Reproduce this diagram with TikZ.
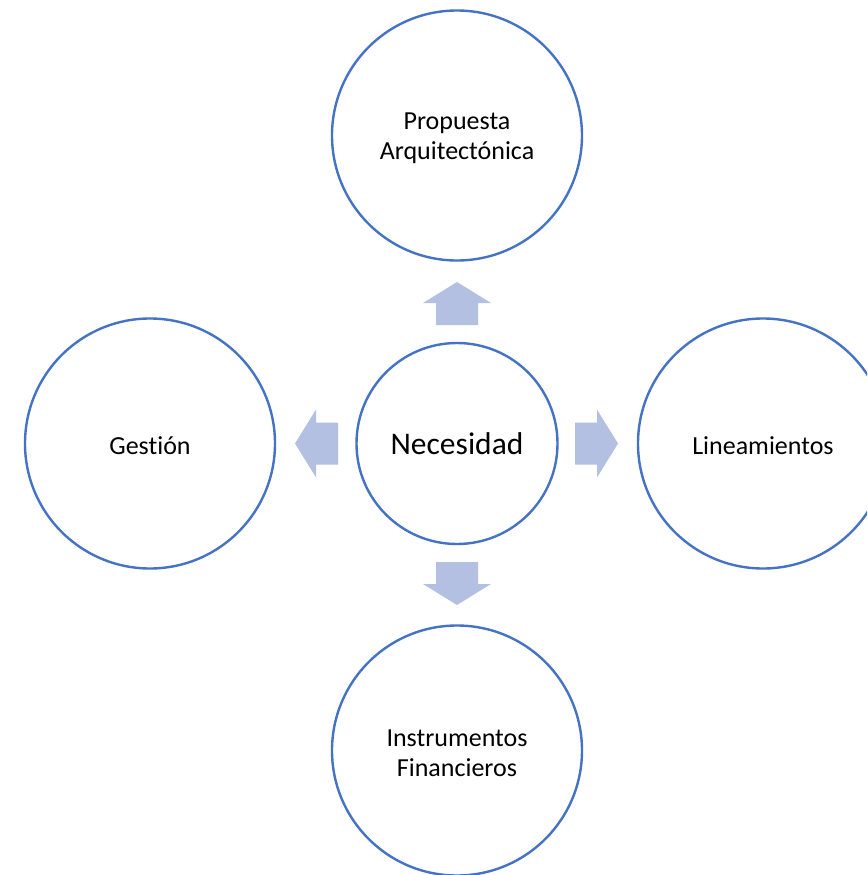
\documentclass[tikz,border=0pt]{standalone}
\usepackage{fontspec}
\setmainfont{Carlito}[Ligatures=NoCommon]
\definecolor{ringblue}{HTML}{4472C4}
\definecolor{arrowfill}{HTML}{B4C0E2}
\tikzset{
  ring/.style={circle, draw=ringblue, line width=2.4pt, fill=white, inner sep=0pt},
  bigring/.style={ring, minimum size=250pt},
  midring/.style={ring, minimum size=201pt},
  lbl/.style={align=center, inner sep=0pt, font=\fontsize{26}{30}\selectfont, yshift=-2.5pt},
  biglbl/.style={align=center, inner sep=0pt, font=\fontsize{31.5}{36}\selectfont},
  blockarrow/.pic={\fill[arrowfill] (0,-21) -- (22,-21) -- (22,-34) -- (43,0) -- (22,34) -- (22,21) -- (0,21) -- cycle;}
}
\begin{document}
\begin{tikzpicture}[x=1pt,y=-1pt]
\useasboundingbox (0,0) rectangle (867,875);
\clip (0,0) rectangle (867,875);
\node[bigring] (prop) at (457,135.5) {};
\node[bigring] (gest) at (150,443.5) {};
\node[bigring] (line) at (763,443.5) {};
\node[bigring] (inst) at (457,750.5) {};
\node[midring] (nec) at (457,443.5) {};
\node[lbl] (propT) at (prop.center) {Propuesta\\Arquitectónica};
\node[lbl] (gestT) at (gest.center) {Gestión};
\node[lbl] (lineT) at (line.center) {Lineamientos};
\node[lbl] (instT) at (inst.center) {Instrumentos\\Financieros};
\node[biglbl] (necT) at (nec.center) {Necesidad};
\coordinate (aup) at (457,325);
\coordinate (aleft) at (338,443.5);
\coordinate (aright) at (575,443.5);
\coordinate (adown) at (457,562);
\pic[rotate=90] at (aup) {blockarrow};
\pic[rotate=180] at (aleft) {blockarrow};
\pic at (aright) {blockarrow};
\pic[rotate=-90] at (adown) {blockarrow};
\end{tikzpicture}
\end{document}
